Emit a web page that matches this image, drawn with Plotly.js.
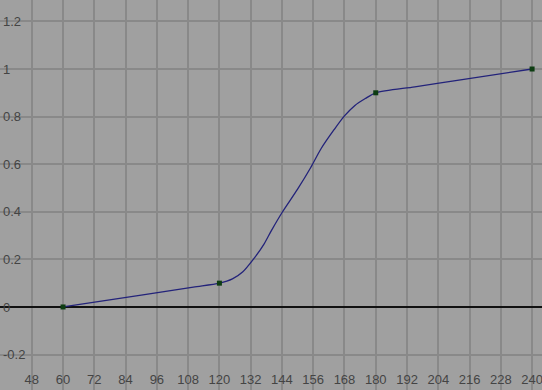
<!DOCTYPE html>
<html>
<head>
<meta charset="utf-8">
<script src="https://cdn.plot.ly/plotly-3.0.1.min.js"></script>
<style>html,body{margin:0;padding:0;background:#a0a0a0;}#chart{width:542px;height:390px;}</style>
</head>
<body>
<div id="chart"></div>
<script>
// curve samples
const curveX = [60, 90, 110, 120, 125, 129, 133, 137, 140, 144, 150, 155, 159, 164, 168, 172, 176, 180, 195, 210, 240];
const curveY = [0, 0.05, 0.0833, 0.1, 0.118, 0.148, 0.2, 0.262, 0.322, 0.396, 0.495, 0.585, 0.665, 0.745, 0.803, 0.847, 0.876, 0.9, 0.925, 0.95, 1.0];
// key frames
const keyX = [60, 120, 180, 240];
const keyY = [0, 0.1, 0.9, 1.0];
// tick labels
const xTicks = [48, 60, 72, 84, 96, 108, 120, 132, 144, 156, 168, 180, 192, 204, 216, 228, 240];
const yTicks = [-0.2, 0, 0.2, 0.4, 0.6, 0.8, 1, 1.2];

const data = [
  {x: curveX, y: curveY, type: 'scatter', mode: 'lines',
   line: {color: '#23237a', width: 1.3, shape: 'spline', smoothing: 0.8}, hoverinfo: 'skip'},
  {x: keyX, y: keyY, type: 'scatter', mode: 'markers',
   marker: {symbol: 'square', size: 5, color: '#0d3d12', line: {width: 0}}, hoverinfo: 'skip'}
];

const layout = {
  width: 542, height: 390,
  margin: {l: 0, r: 0, t: 0, b: 0, pad: 0},
  paper_bgcolor: '#a0a0a0', plot_bgcolor: '#a0a0a0',
  showlegend: false,
  font: {family: 'Liberation Sans, Arial, sans-serif', size: 13, color: '#1a1a1a'},
  xaxis: {
    range: [35.8, 243.8], tickvals: xTicks, ticktext: xTicks.map(String),
    showgrid: true, gridcolor: '#898989', gridwidth: 2,
    zeroline: false, showline: false, ticks: '',
    ticklabelposition: 'inside', ticklabeloverflow: 'allow', fixedrange: true
  },
  yaxis: {
    range: [-0.349, 1.29], tickvals: yTicks, ticktext: yTicks.map(v => String(Math.round(v*10)/10)),
    showgrid: true, gridcolor: '#898989', gridwidth: 2,
    zeroline: true, zerolinecolor: '#111111', zerolinewidth: 1.5,
    showline: false, ticks: '',
    ticklabelposition: 'inside', ticklabeloverflow: 'allow', fixedrange: true
  }
};

Plotly.newPlot('chart', data, layout, {staticPlot: true, displayModeBar: false});
</script>
</body>
</html>
